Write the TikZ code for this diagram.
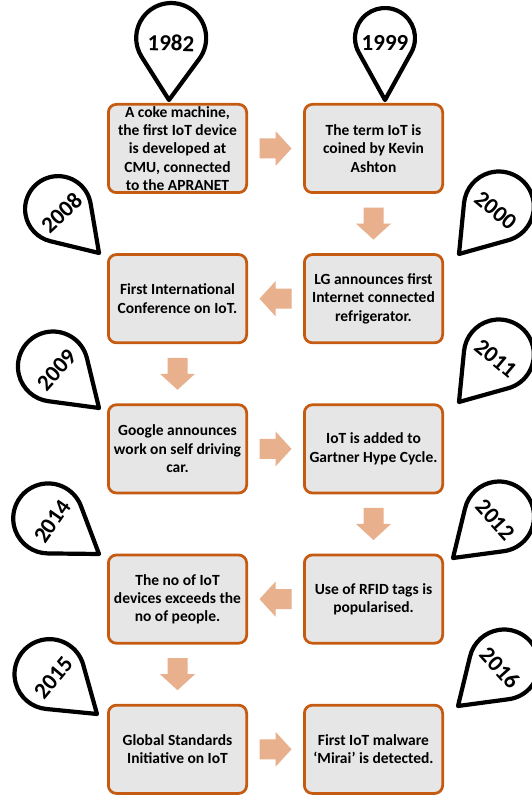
\documentclass[tikz,border=0pt]{standalone}
\usepackage{fontspec}
\setmainfont{Carlito}
\usetikzlibrary{calc}
\definecolor{boxedge}{HTML}{C55A11}
\definecolor{boxfill}{HTML}{E6E6E6}
\definecolor{arrowfill}{HTML}{E8B08C}
\newcommand\eventfont{\fontsize{15.5}{18.3}\selectfont\bfseries}
\newcommand\yearfont{\fontsize{23}{23}\selectfont\bfseries}

\begin{document}
\begin{tikzpicture}[x=1pt,y=1pt,
  event/.style={draw=boxedge, fill=boxfill, line width=2.75pt,
    rounded corners=8pt, minimum width=138.25pt, minimum height=88.25pt,
    align=center, inner sep=0pt, font=\eventfont},
  pics/blockarrow/.style={code={
    \fill[arrowfill] (-16,-10) -- (0,-10) -- (0,-17.5) -- (16,0)
      -- (0,17.5) -- (0,10) -- (-16,10) -- cycle;}},
  % location pin: #1 circle radius, #2 tip-to-centre distance, #3 year
  pics/pin/.style n args={3}{code={
    \pgfmathsetmacro\pinang{asin(#1/#2)}
    \pgfmathsetmacro\pinx{#1*cos(\pinang)}
    \pgfmathsetmacro\piny{#2-#1*sin(\pinang)}
    \draw[line width=4.2pt, line join=round, fill=white]
      (0,0) -- (\pinx,\piny)
      arc[start angle=-\pinang, end angle=180+\pinang, radius=#1] -- cycle;
    \node[transform shape, font=\yearfont, inner sep=0pt] at (0,#2-5) {#3};}}
]
\useasboundingbox (0,0) rectangle (532,796);
\clip (0,0) rectangle (532,796);
\fill[white] (0,0) rectangle (532,796);

% timeline boxes
\node[event] (e1982) at (177.5,647.5) {A coke machine,\\the first IoT device\\is developed at\\CMU, connected\\to the APRANET};
\node[event] (e1999) at (373.5,647.5) {The term IoT is\\coined by Kevin\\Ashton};
\node[event] (e2000) at (373.5,497.3) {LG announces first\\Internet connected\\refrigerator.};
\node[event] (e2008) at (177.5,497.3) {First International\\Conference on IoT.};
\node[event] (e2009) at (177.5,347.1) {Google announces\\work on self driving\\car.};
\node[event] (e2011) at (373.5,347.1) {IoT is added to\\Gartner Hype Cycle.};
\node[event] (e2012) at (373.5,196.9) {Use of RFID tags is\\popularised.};
\node[event] (e2014) at (177.5,196.9) {The no of IoT\\devices exceeds the\\no of people.};
\node[event] (e2015) at (177.5,46.7) {Global Standards\\Initiative on IoT};
\node[event] (e2016) at (373.5,46.7) {First IoT malware\\‘Mirai’ is detected.};

% block arrows between consecutive events
\pic at ($(e1982.east)!0.5!(e1999.west)$) {blockarrow};
\pic[rotate=-90] at ($(e1999.south)!0.5!(e2000.north)$) {blockarrow};
\pic[rotate=180] at ($(e2000.west)!0.5!(e2008.east)$) {blockarrow};
\pic[rotate=-90] at ($(e2008.south)!0.5!(e2009.north)$) {blockarrow};
\pic at ($(e2009.east)!0.5!(e2011.west)$) {blockarrow};
\pic[rotate=-90] at ($(e2011.south)!0.5!(e2012.north)$) {blockarrow};
\pic[rotate=180] at ($(e2012.west)!0.5!(e2014.east)$) {blockarrow};
\pic[rotate=-90] at ($(e2014.south)!0.5!(e2015.north)$) {blockarrow};
\pic at ($(e2015.east)!0.5!(e2016.west)$) {blockarrow};

% year pins
\pic (p1982) [rotate=-2] at (169,696) {pin={35}{62}{1982}};
\pic (p1999) at (385,696) {pin={30}{62}{1999}};
\pic (p2008) [rotate=43] at (99,543) {pin={33}{60}{2008}};
\pic (p2009) [rotate=48] at (99,388) {pin={35}{62}{2009}};
\pic (p2014) [rotate=55] at (99,242) {pin={35}{62}{2014}};
\pic (p2015) [rotate=50] at (97,82) {pin={35}{62}{2015}};
\pic (p2000) [rotate=-40] at (459,542) {pin={35}{62}{2000}};
\pic (p2011) [rotate=-40] at (459,394) {pin={35}{62}{2011}};
\pic (p2012) [rotate=-48] at (453,238) {pin={35}{62}{2012}};
\pic (p2016) [rotate=-48] at (458,90) {pin={35}{62}{2016}};
\end{tikzpicture}
\end{document}
